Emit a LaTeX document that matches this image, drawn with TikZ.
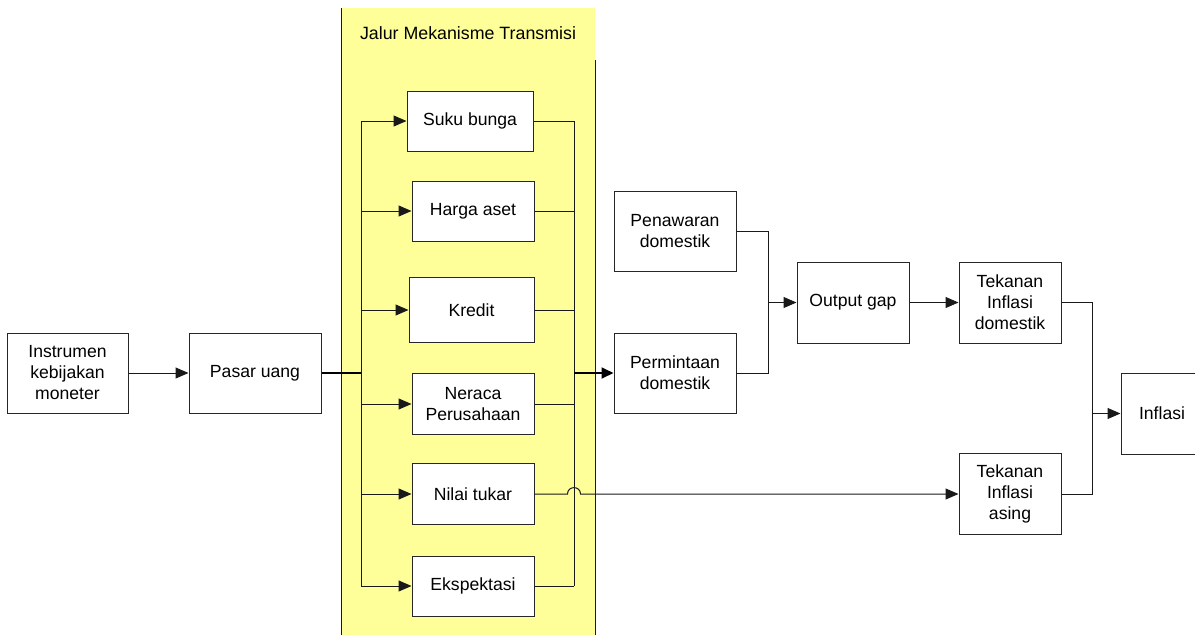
\documentclass[tikz,border=0pt]{standalone}
\usepackage{fontspec}
\setmainfont{Liberation Sans}
\usetikzlibrary{arrows.meta}
\begin{document}
\begin{tikzpicture}[x={(1pt,0)},y={(0,-1pt)},
  ln/.style={draw=black!90,line width=1pt},
  thk/.style={draw=black,line width=1.8pt},
  arr/.style={ln,-{Triangle[length=13pt,width=11pt]}},
  thkarr/.style={thk,-{Triangle[length=12pt,width=11pt]}},
  box/.style={draw=black!85,line width=1pt,fill=white,inner sep=0pt,align=center,
    font=\fontsize{17.6}{21}\selectfont},
  lbl/.style={inner sep=0pt,font=\fontsize{17.8}{21}\selectfont}]
\useasboundingbox (0,0) rectangle (1195,635);
% panel
\fill[fill={rgb,255:red,255;green,255;blue,153}] (341,8) rectangle (595,640);
\draw[ln] (341,8) -- (341,640);
\draw[ln] (595,60) -- (595,640);
\node[lbl] (title) at (468,33) {Jalur Mekanisme Transmisi};
% nodes
\node[box,minimum width=121,minimum height=80] (instr) at (67.5,373) {Instrumen\\kebijakan\\moneter};
\node[box,minimum width=132,minimum height=80] (pasar) at (255,373) {Pasar uang};
\node[box,minimum width=126,minimum height=60] (suku) at (470,121) {Suku bunga};
\node[box,minimum width=122,minimum height=60] (harga) at (473,211) {Harga aset};
\node[box,minimum width=125,minimum height=65] (kredit) at (471.5,310) {Kredit};
\node[box,minimum width=122,minimum height=61] (neraca) at (473,404) {Neraca\\Perusahaan};
\node[box,minimum width=122,minimum height=61] (nilai) at (473,494) {Nilai tukar};
\node[box,minimum width=122,minimum height=60] (ekspek) at (473,586) {Ekspektasi};
\node[box,minimum width=122,minimum height=80] (penaw) at (675,231.5) {Penawaran\\domestik};
\node[box,minimum width=122,minimum height=80] (permi) at (675,373) {Permintaan\\domestik};
\node[box,minimum width=112,minimum height=81] (outgap) at (853,302.5) {Output gap};
\node[box,minimum width=102,minimum height=81] (tdom) at (1010,302.5) {Tekanan\\Inflasi\\domestik};
\node[box,minimum width=102,minimum height=81] (tasing) at (1010,494) {Tekanan\\Inflasi\\asing};
\node[box,minimum width=82,minimum height=81] (infl) at (1162,413.5) {Inflasi};
% coordinates
\coordinate (lj) at (361,373);
\coordinate (ltop) at (361,121);
\coordinate (lbot) at (361,586);
\coordinate (rj) at (574,373);
\coordinate (rtop) at (574,121);
\coordinate (rbot) at (574,586);
\coordinate (jl) at (567.5,494);
\coordinate (jr) at (580.5,494);
\coordinate (mj) at (768,302.5);
\coordinate (ij) at (1092,413.5);
% connectors
\draw[arr] (instr) -- (pasar);
\draw[thk] (pasar.east) -- (lj);
\draw[ln] (ltop) -- (lbot);
\draw[ln] (rtop) -- (rbot);
\foreach \n in {suku,harga,kredit,neraca,nilai,ekspek}{
  \draw[arr] (ltop |- \n.west) -- (\n.west);
}
\foreach \n in {suku,harga,kredit,neraca,ekspek}{
  \draw[ln] (\n.east) -- (rtop |- \n.east);
}
\draw[thkarr] (rj) -- (permi.west);
\draw[arr] (nilai.east) -- (jl) .. controls (567.5,485.5) and (580.5,485.5) .. (jr) -- (tasing.west);
\draw[ln] (penaw.east) -| (mj);
\draw[ln] (permi.east) -| (mj);
\draw[arr] (mj) -- (outgap.west);
\draw[arr] (outgap) -- (tdom);
\draw[ln] (tdom.east) -| (ij);
\draw[ln] (tasing.east) -| (ij);
\draw[arr] (ij) -- (infl.west);
\end{tikzpicture}
\end{document}
